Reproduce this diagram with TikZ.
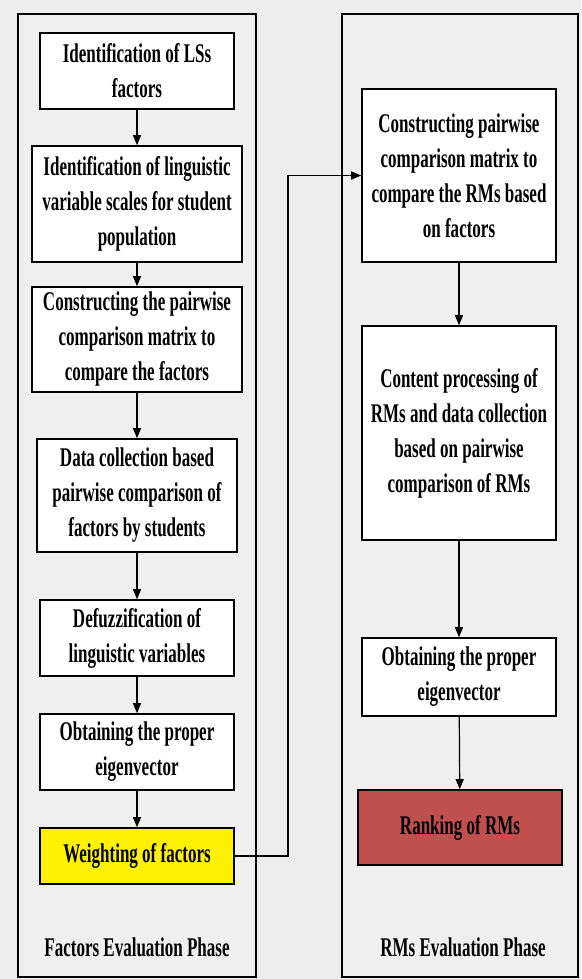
\documentclass[tikz,border=0pt]{standalone}
\usepackage{fontspec}
\setmainfont{Liberation Serif}[FakeStretch=0.63]
\usetikzlibrary{arrows.meta}
\definecolor{bggray}{HTML}{EDEDED}
\definecolor{panelgray}{HTML}{EFEFEF}
\definecolor{rankred}{HTML}{C0504D}
\tikzset{
  phase/.style={draw, line width=1.6pt, fill=panelgray},
  stepbox/.style={draw, line width=1.6pt, fill=white, align=center, inner sep=0pt,
    font=\bfseries\fontsize{27}{35}\selectfont},
  flow/.style={-{Triangle[length=10pt,width=8pt]}, line width=1.2pt},
  phaselabel/.style={font=\bfseries\fontsize{27}{35}\selectfont}
}
\begin{document}
\begin{tikzpicture}[x=1pt,y=-1pt]
  \fill[bggray] (0,0) rectangle (581,979);
  \useasboundingbox (0,0) rectangle (581,979);
  % the two phases
  \draw[phase] (18,14) rectangle (256,977);
  \draw[phase] (342,14) rectangle (578,977);
  % factors evaluation
  \node[stepbox, minimum width=194pt, minimum height=76pt] (lsfac) at (137,71)
    {Identification of LSs\\factors};
  \node[stepbox, minimum width=210pt, minimum height=116pt] (scales) at (137,204)
    {Identification of linguistic\\variable scales for student\\population};
  \node[stepbox, minimum width=210pt, minimum height=105pt] (fmatrix) at (137,339.5)
    {Constructing the pairwise\\comparison matrix to\\compare the factors};
  \node[stepbox, minimum width=200pt, minimum height=113pt] (collect) at (137,495.5)
    {Data collection based\\pairwise comparison of\\factors by students};
  \node[stepbox, minimum width=194pt, minimum height=76pt] (defuzz) at (137,638)
    {Defuzzification of\\linguistic variables};
  \node[stepbox, minimum width=194pt, minimum height=76pt] (eigenL) at (137,752)
    {Obtaining the proper\\eigenvector};
  \node[stepbox, fill=yellow, minimum width=194pt, minimum height=56pt] (weight) at (137,856)
    {Weighting of factors};
  % RMs evaluation
  \node[stepbox, minimum width=194pt, minimum height=173pt] (rmatrix) at (459,175.5)
    {Constructing pairwise\\comparison matrix to\\compare the RMs based\\on factors};
  \node[stepbox, minimum width=194pt, minimum height=214pt] (content) at (459,433)
    {Content processing of\\RMs and data collection\\based on pairwise\\comparison of RMs};
  \node[stepbox, minimum width=194pt, minimum height=78pt] (eigenR) at (459,677)
    {Obtaining the proper\\eigenvector};
  \node[stepbox, fill=rankred, minimum width=204pt, minimum height=75pt] (rank) at (460,827.5)
    {Ranking of RMs};
  \node[phaselabel] (flabel) at (137,947) {Factors Evaluation Phase};
  \node[phaselabel] (rlabel) at (463,947) {RMs Evaluation Phase};
  % arrows
  \draw[flow] (lsfac) -- (scales);
  \draw[flow] (scales) -- (fmatrix);
  \draw[flow] (fmatrix) -- (collect);
  \draw[flow] (collect) -- (defuzz);
  \draw[flow] (defuzz) -- (eigenL);
  \draw[flow] (eigenL) -- (weight);
  \coordinate (bend) at (288,856);
  \draw[flow] (weight.east) -- (bend) |- (rmatrix.west);
  \draw[flow] (rmatrix) -- (content);
  \draw[flow] (content) -- (eigenR);
  \draw[flow] (eigenR) -- (rank);
\end{tikzpicture}
\end{document}
